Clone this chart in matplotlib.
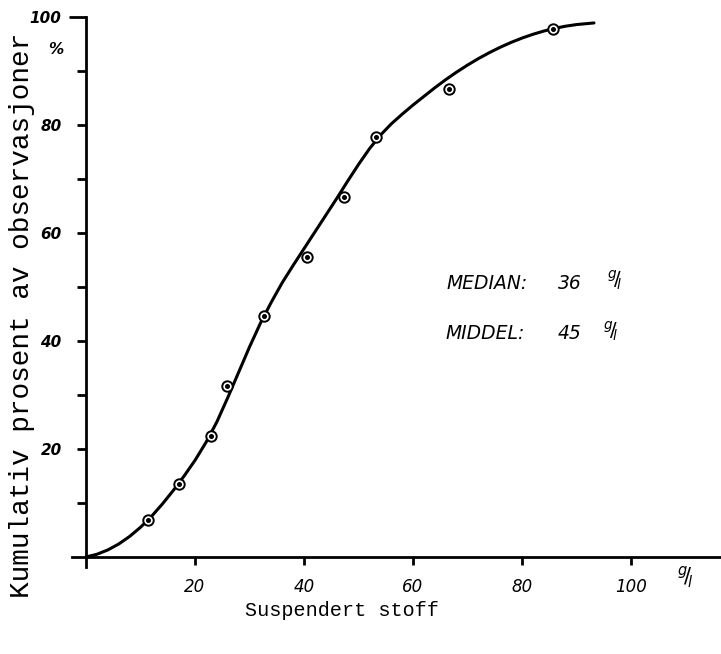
import numpy as np
import matplotlib
matplotlib.use("Agg")
import matplotlib.pyplot as plt

# observed points (suspended matter g/l, cumulative %)
obs_x = [11.4, 17.1, 22.9, 25.8, 32.7, 40.5, 47.3, 53.2, 66.6, 85.7]
obs_y = [6.9, 13.5, 22.4, 31.7, 44.6, 55.5, 66.7, 77.8, 86.7, 97.8]

# hand-drawn fitted curve
curve_x = [0, 2, 4, 6, 8, 10, 12, 14, 16, 18, 20, 22, 24, 26, 28, 30, 32, 34,
           36, 38, 40, 42, 44, 46, 48, 50, 52, 54, 56, 58, 60, 62, 64, 66, 68,
           70, 72, 74, 76, 78, 80, 82, 84, 86, 88, 90, 93.2]
curve_y = [0.0, 0.5, 1.3, 2.4, 3.8, 5.5, 7.5, 9.8, 12.3, 15.0, 17.9, 21.2,
           25.0, 29.5, 34.2, 38.9, 43.3, 47.2, 50.8, 54.0, 57.1, 60.2, 63.3,
           66.4, 69.6, 72.7, 75.6, 78.1, 80.2, 82.0, 83.7, 85.3, 86.9, 88.4,
           89.8, 91.1, 92.3, 93.4, 94.4, 95.3, 96.1, 96.8, 97.4, 97.9, 98.3,
           98.6, 98.9]

x_ticks = [20, 40, 60, 80, 100]
y_ticks = [20, 40, 60, 80, 100]
y_minor = [10, 30, 50, 70, 90]

fig = plt.figure(figsize=(7.21, 6.54), dpi=100)
ax = fig.add_axes([0.1004, 0.1335, 0.8996, 0.8405])

ax.plot(curve_x, curve_y, color="black", lw=2.2, solid_capstyle="round",
        solid_joinstyle="round", zorder=2)
ax.plot(obs_x, obs_y, "o", ms=7.5, mfc="white", mec="black", mew=1.4, zorder=3)
ax.plot(obs_x, obs_y, "o", ms=2.6, color="black", zorder=4)

ax.set_xlim(-2.5, 116.5)
ax.set_ylim(-1.8, 100)

for s in ["top", "right"]:
    ax.spines[s].set_visible(False)
ax.spines["bottom"].set_position(("data", 0))
ax.spines["left"].set_position(("data", 0))
ax.spines["bottom"].set_linewidth(2.0)
ax.spines["left"].set_linewidth(2.0)

ax.set_xticks(x_ticks)
ax.set_xticklabels([str(t) for t in x_ticks], fontstyle="italic", fontsize=12)
ax.set_yticks(y_ticks)
ax.set_yticks(y_minor, minor=True)
ax.set_yticklabels([str(t) for t in y_ticks], fontstyle="italic",
                   fontweight="bold", fontsize=11)
ax.tick_params(axis="x", direction="out", length=6, width=2, pad=9)
ax.tick_params(axis="y", which="both", direction="out", length=6.5, width=2, pad=11)
# the top tick is drawn a bit longer
ax.yaxis.get_major_ticks()[-1].tick1line.set_markersize(12)

ax.text(-5.5, 94, "%", fontstyle="italic", fontweight="bold", fontsize=11,
        ha="center", va="center")

# unit label at the end of the x-axis
ax.text(110, -3.8, r"$^{g}\!/\!_{l}$", fontsize=15, ha="center", va="center")

# median / mean annotations
ax.text(66.2, 50.7, "MEDIAN:", fontstyle="italic", fontsize=13.5, va="center")
ax.text(86.5, 50.7, "36", fontstyle="italic", fontsize=13.5, va="center")
ax.text(95.5, 51.2, r"$^{g}\!/\!_{l}$", fontsize=14, va="center")
ax.text(66.0, 41.3, "MIDDEL:", fontstyle="italic", fontsize=13.5, va="center")
ax.text(86.5, 41.3, "45", fontstyle="italic", fontsize=13.5, va="center")
ax.text(94.8, 41.8, r"$^{g}\!/\!_{l}$", fontsize=14, va="center")

fig.text(22 / 721, 1 - 315 / 654, "Kumulativ prosent av observasjoner",
         family="Liberation Mono", fontsize=20, rotation=90,
         ha="center", va="center")
fig.text(342 / 721, 1 - 610 / 654, "Suspendert stoff",
         family="Liberation Mono", fontsize=14.5, ha="center", va="center")

fig.savefig("out.png", dpi=100, facecolor="white")
